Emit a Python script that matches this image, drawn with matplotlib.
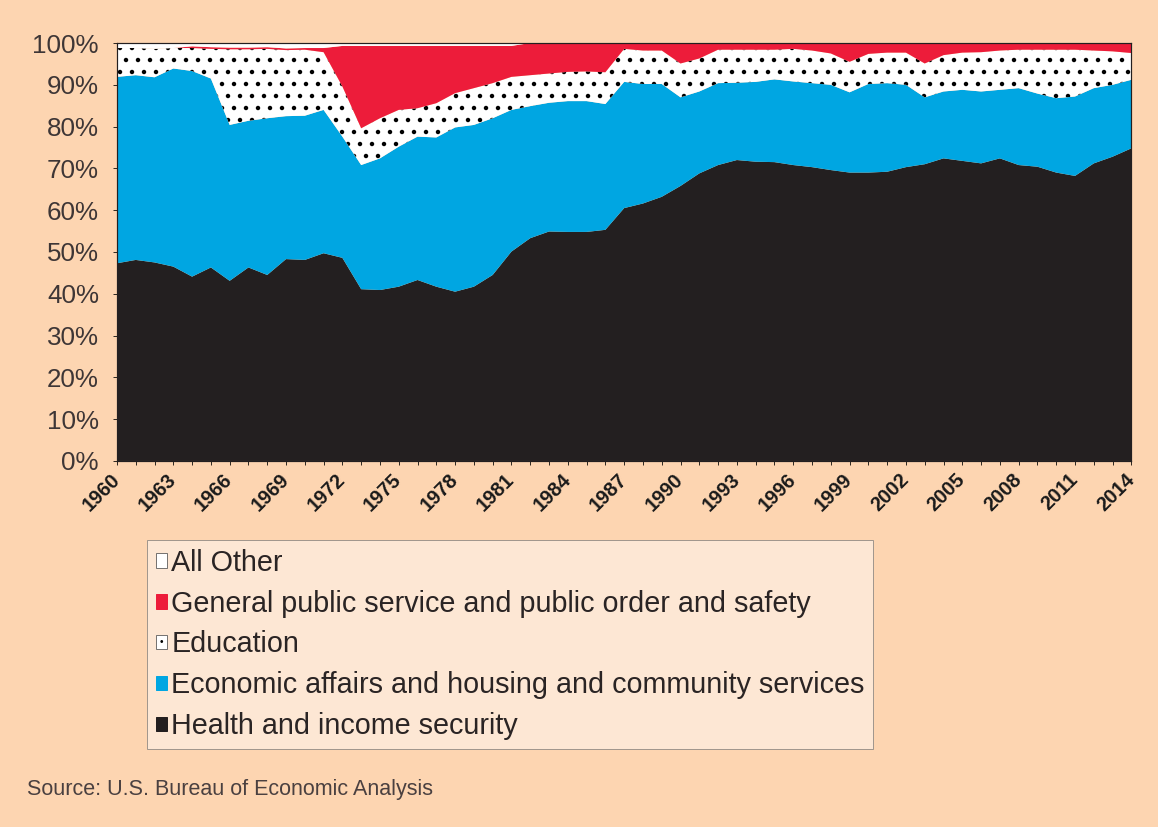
import numpy as np
import matplotlib
matplotlib.use("Agg")
import matplotlib.pyplot as plt
from matplotlib.patches import Patch

# share of government spending by function, percent
years = list(range(1960, 2015))

health = [47.3, 48.1, 47.5, 46.5, 44.1, 46.3, 43.1, 46.3, 44.5, 48.3,
          48.1, 49.7, 48.6, 41.1, 40.9, 41.7, 43.3, 41.7, 40.5, 41.7,
          44.5, 50.1, 53.3, 54.9, 54.8, 54.8, 55.3, 60.5, 61.6, 63.2,
          65.8, 68.8, 70.8, 72.0, 71.6, 71.5, 70.8, 70.3, 69.6, 69.0,
          69.0, 69.2, 70.3, 71.0, 72.4, 71.8, 71.2, 72.4, 70.8, 70.4,
          69.0, 68.2, 71.2, 72.8, 74.8]

econ = [44.6, 44.2, 44.3, 47.4, 49.2, 45.2, 37.3, 35.1, 37.5, 34.2,
        34.5, 34.3, 29.0, 29.7, 31.5, 33.5, 34.3, 35.7, 39.3, 38.7,
        37.5, 33.9, 31.6, 30.8, 31.3, 31.3, 30.1, 30.2, 28.6, 27.0,
        21.2, 19.6, 19.6, 18.5, 19.1, 19.8, 20.0, 20.1, 20.4, 19.2,
        21.2, 21.2, 19.7, 16.0, 16.0, 17.0, 17.2, 16.4, 18.4, 17.5,
        17.8, 19.0, 18.0, 17.2, 16.4]

education = [6.9, 6.5, 6.8, 4.9, 5.5, 7.1, 18.1, 17.1, 16.6, 15.8,
             15.8, 13.8, 12.0, 8.8, 9.6, 8.8, 6.8, 8.2, 8.2, 8.8,
             8.4, 7.9, 7.4, 7.0, 7.0, 7.1, 7.6, 7.9, 8.0, 8.0,
             8.1, 7.9, 8.0, 7.9, 7.7, 7.1, 7.8, 7.8, 7.5, 7.3,
             7.2, 7.3, 7.7, 8.1, 8.7, 8.9, 9.4, 9.4, 9.2, 10.5,
             11.6, 11.2, 9.0, 8.0, 6.4]

general = [0.0, 0.0, 0.0, 0.0, 0.4, 0.4, 0.4, 0.4, 0.4, 0.4,
           0.4, 1.0, 9.7, 19.7, 17.3, 15.3, 14.9, 13.7, 11.3, 10.1,
           8.9, 7.4, 7.7, 7.3, 6.9, 6.8, 7.0, 1.4, 1.8, 1.8,
           4.9, 3.7, 1.6, 1.6, 1.6, 1.6, 1.4, 1.8, 2.5, 4.5,
           2.6, 2.3, 2.3, 4.9, 2.9, 2.3, 2.2, 1.8, 1.6, 1.6,
           1.6, 1.6, 1.8, 2.0, 2.4]

other = [1.2, 1.2, 1.4, 1.2, 0.8, 1.0, 1.1, 1.1, 1.0, 1.3,
         1.2, 1.2, 0.7, 0.7, 0.7, 0.7, 0.7, 0.7, 0.7, 0.7,
         0.7, 0.7] + [0.0] * 33

labels = ["Health and income security",
          "Economic affairs and housing and community services",
          "Education",
          "General public service and public order and safety",
          "All Other"]

bg = "#fdd5b1"
colors = ["#231f20", "#00a6e2", "white", "#ed1c3a", "white"]

plt.rcParams["hatch.color"] = "black"
plt.rcParams["hatch.linewidth"] = 2.0
plt.rcParams["font.family"] = ["Liberation Sans", "DejaVu Sans"]

# dpi 72 so one point is one pixel (and the dot hatch gets the right density)
fig = plt.figure(figsize=(1158 / 72, 827 / 72), dpi=72, facecolor=bg)
ax = fig.add_axes([0.101, 0.4426, 0.876, 0.5054])
ax.set_facecolor(bg)

polys = ax.stackplot(years, health, econ, education, general, other,
                     colors=colors, linewidth=0)
polys[2].set_edgecolor("black")
polys[2].set_linewidth(0)
polys[2].set_hatch(".")

ax.set_xlim(1960, 2014)
ax.set_ylim(0, 100)

ax.set_yticks(range(0, 101, 10))
ax.set_yticklabels([f"{v}%" for v in range(0, 101, 10)], fontsize=26, color="#3e3636")
ax.set_xticks(range(1960, 2015, 3))
ax.set_xticks(years, minor=True)
ax.set_xticklabels([str(y) for y in range(1960, 2015, 3)], rotation=45,
                   ha="right", va="center", rotation_mode="anchor",
                   fontsize=20, fontweight="bold", color="#1a1a1a")
ax.tick_params(axis="x", which="both", direction="out", length=4, width=0.8, pad=12)
ax.tick_params(axis="y", direction="out", length=4, width=0.8, pad=14)

for side in ["left", "bottom", "top", "right"]:
    ax.spines[side].set_color("#231f20")
    ax.spines[side].set_linewidth(1.2)

# legend, top layer first like the original
handles = [
    Patch(facecolor="white", edgecolor="#555555", linewidth=0.8),
    Patch(facecolor=colors[3], edgecolor=colors[3]),
    Patch(facecolor="white", edgecolor="#555555", linewidth=0.8),
    Patch(facecolor=colors[1], edgecolor=colors[1]),
    Patch(facecolor=colors[0], edgecolor=colors[0]),
]
leg = fig.legend(handles, labels[::-1], loc="upper left",
                 bbox_to_anchor=(147 / 1158, 1 - 540 / 827),
                 fontsize=28.7, frameon=True, fancybox=False,
                 handlelength=0.4, handleheight=0.4, handletextpad=0.15,
                 labelspacing=0.45, borderpad=0.3, borderaxespad=0)
leg.get_frame().set_facecolor("#fdecde")
leg.get_frame().set_edgecolor("#8c8580")
leg.get_frame().set_linewidth(1.0)
for t in leg.get_texts():
    t.set_color("#2a2424")

# single dot inside the Education legend swatch
edu_box = leg.legend_handles[2]
fig.canvas.draw()
bb = edu_box.get_window_extent()
fig.text((bb.x0 + bb.x1) / 2 / fig.bbox.width, (bb.y0 + bb.y1) / 2 / fig.bbox.height,
         "\u2022", fontsize=10, color="black", ha="center", va="center", zorder=10)

fig.text(27 / 1158, 1 - 790 / 827, "Source: U.S. Bureau of Economic Analysis",
         fontsize=21.5, color="#4a4040", va="center", ha="left")

fig.savefig("out.png", dpi=72, facecolor=bg)
